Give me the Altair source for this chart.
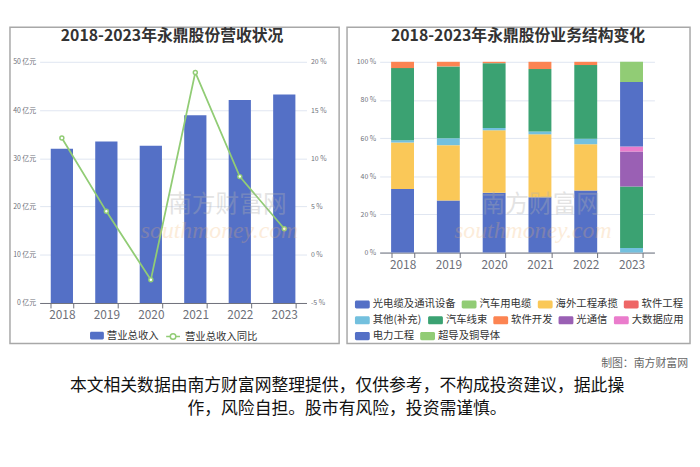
import altair as alt
import pandas as pd

# ---------------- data ----------------
years = ["2018", "2019", "2020", "2021", "2022", "2023"]
revenue = [32.0, 33.5, 32.6, 38.9, 42.1, 43.2]      # 亿元
yoy = [12.1, 4.5, -2.6, 18.9, 8.1, 2.7]             # %

rev_name = "营业总收入"
yoy_name = "营业总收入同比"
left_title = "2018-2023年永鼎股份营收状况"
right_title = "2018-2023年永鼎股份业务结构变化"

segments = ["光电缆及通讯设备", "汽车用电缆", "海外工程承揽", "软件工程",
            "其他(补充)", "汽车线束", "软件开发", "光通信", "大数据应用",
            "电力工程", "超导及铜导体"]
seg_colors = ["#5470c6", "#91cc75", "#fac858", "#ee6666", "#73c0de", "#3ba272",
              "#fc8452", "#9a60b4", "#ea7ccc", "#5470c6", "#91cc75"]
share_gdl = [33.3, 27.3, 31.3, 29.0, 32.5, 0.0]
share_qcydl = [0.0, 0.0, 0.0, 0.0, 0.0, 0.0]
share_hwgc = [24.4, 29.0, 32.8, 33.0, 24.3, 0.0]
share_rjgc = [0.0, 0.0, 0.0, 0.0, 0.0, 0.0]
share_qt = [1.2, 3.6, 1.2, 1.5, 2.9, 2.4]
share_qcxs = [37.8, 37.7, 34.0, 32.7, 38.6, 32.3]
share_rjkf = [3.3, 2.4, 0.7, 3.8, 1.7, 0.0]
share_gtx = [0.0, 0.0, 0.0, 0.0, 0.0, 18.3]
share_dsj = [0.0, 0.0, 0.0, 0.0, 0.0, 2.6]
share_dlgc = [0.0, 0.0, 0.0, 0.0, 0.0, 33.8]
share_cd = [0.0, 0.0, 0.0, 0.0, 0.0, 10.6]
shares = [share_gdl, share_qcydl, share_hwgc, share_rjgc, share_qt, share_qcxs,
          share_rjkf, share_gtx, share_dsj, share_dlgc, share_cd]
legend_rows = [segments[0:4], segments[4:9], segments[9:11]]

credit = "制图：南方财富网"
note1 = "本文相关数据由南方财富网整理提供，仅供参考，不构成投资建议，据此操"
note2 = "作，风险自担。股市有风险，投资需谨慎。"
wm_cn = "南方财富网"
wm_en = "southmoney.com"

# ---------------- style ----------------
FONT = "Noto Sans CJK SC"
AXIS_GRAY = "#6e7079"
GRID = "#e0e6f1"
BOX = "#a8a8a8"
LW, LH = 270, 244
RW, RH = 278, 193

rect_sym = ("M-0.8,-0.55H0.8A0.2,0.2,0,0,1,1,-0.35V0.35A0.2,0.2,0,0,1,0.8,0.55"
            "H-0.8A0.2,0.2,0,0,1,-1,0.35V-0.35A0.2,0.2,0,0,1,-0.8,-0.55Z")
line_sym = ("M-1,0L-0.4,0M0.4,0L1,0M-0.4,0A0.4,0.4,0,1,0,0.4,0"
            "A0.4,0.4,0,1,0,-0.4,0")

def xaxis():
    return alt.Axis(title=None, labelAngle=0, labelFontSize=12, labelColor=AXIS_GRAY,
                    domainColor=AXIS_GRAY, tickColor=AXIS_GRAY, tickBand="extent",
                    tickSize=5, labelPadding=2, grid=False, labelFont=FONT)

def xscale():
    return alt.Scale(paddingInner=0.5, paddingOuter=0.25)

one = pd.DataFrame({"k": [0]})

def box(x1, x2, y1, y2):
    return alt.Chart(one).mark_rect(filled=False, stroke=BOX, strokeWidth=1.5,
                                    clip=False).encode(
        x=alt.value(x1), x2=alt.value(x2), y=alt.value(y1), y2=alt.value(y2))

def title(txt, xc):
    return alt.Chart(pd.DataFrame({"t": [txt]})).mark_text(
        font=FONT, fontSize=16, fontWeight="bold", color="#333333",
        align="center", baseline="middle", clip=False).encode(
        text="t:N", x=alt.value(xc), y=alt.value(-26))

def watermark(xc, yc):
    cn = alt.Chart(pd.DataFrame({"t": [wm_cn]})).mark_text(
        font=FONT, fontSize=24, color="#b0b0b0", opacity=0.35, align="center",
        baseline="middle", clip=False).encode(
        text="t:N", x=alt.value(xc), y=alt.value(yc))
    en = alt.Chart(pd.DataFrame({"t": [wm_en]})).mark_text(
        font="Liberation Serif", fontStyle="italic", fontSize=24, color="#f5b56e",
        opacity=0.25, align="center", baseline="middle", clip=False).encode(
        text="t:N", x=alt.value(xc - 8), y=alt.value(yc + 26))
    return [cn, en]

# ---------------- left panel ----------------
left_df = pd.DataFrame({"year": years, "revenue": revenue, "yoy": yoy,
                        "s1": [rev_name] * len(years), "s2": [yoy_name] * len(years)})

bars = alt.Chart(left_df).mark_bar().encode(
    x=alt.X("year:N", scale=xscale(), axis=xaxis()),
    y=alt.Y("revenue:Q", scale=alt.Scale(domain=[0, 50]),
            axis=alt.Axis(title=None, values=[0, 10, 20, 30, 40, 50],
                          labelExpr="datum.value + ' 亿元'", labelFontSize=7,
                          labelColor=AXIS_GRAY, domain=False, ticks=False,
                          grid=True, gridColor=GRID, labelPadding=4, labelFont=FONT)),
    fill=alt.Fill("s1:N", scale=alt.Scale(domain=[rev_name], range=["#5470c6"]),
                  legend=alt.Legend(orient="none", legendX=51, legendY=270, title=None,
                                    direction="horizontal", symbolType=rect_sym,
                                    symbolSize=196, symbolStrokeWidth=0,
                                    labelFontSize=10.5, labelFont=FONT, labelColor="#333333",
                                    labelOffset=3, padding=0)),
)

line = alt.Chart(left_df).mark_line(strokeWidth=1.8).encode(
    x=alt.X("year:N", scale=xscale()),
    y=alt.Y("yoy:Q", scale=alt.Scale(domain=[-5, 20]),
            axis=alt.Axis(title=None, orient="right", values=[-5, 0, 5, 10, 15, 20],
                          labelExpr="datum.value + ' %'", labelFontSize=7,
                          labelColor=AXIS_GRAY, domain=False, ticks=False, grid=False,
                          labelPadding=4, labelFont=FONT)),
    stroke=alt.Stroke("s2:N", scale=alt.Scale(domain=[yoy_name], range=["#91cc75"]),
                      legend=alt.Legend(orient="none", legendX=127, legendY=270, title=None,
                                        direction="horizontal", symbolType=line_sym,
                                        symbolSize=196, symbolStrokeWidth=1.5,
                                        symbolFillColor="white",
                                        labelFontSize=10.5, labelFont=FONT,
                                        labelColor="#333333", labelOffset=4, padding=0)),
)

pts = alt.Chart(left_df).mark_point(filled=True, fill="white", stroke="#91cc75",
                                    strokeWidth=1.5, size=16, opacity=1).encode(
    x=alt.X("year:N", scale=xscale()),
    y=alt.Y("yoy:Q", scale=alt.Scale(domain=[-5, 20]), axis=None),
)

left = alt.layer(box(-30, 303, -35, 285), bars, line, pts, *watermark(190, 145),
                 title(left_title, 134)).resolve_scale(
    y="independent").properties(width=LW, height=LH)

# ---------------- right panel ----------------
rows = []
for i, s in enumerate(segments):
    for j, yr in enumerate(years):
        rows.append({"year": yr, "segment": s, "pct": shares[i][j], "order": i})
rdf = pd.DataFrame(rows)

base = alt.Chart(rdf).transform_stack(
    stack="pct", groupby=["year"], as_=["y0", "y1"],
    sort=[alt.SortField(field="order", order="ascending")])

def yaxis_r():
    return alt.Axis(title=None, values=[0, 20, 40, 60, 80, 100],
                    labelExpr="datum.value + ' %'", labelFontSize=7,
                    labelColor=AXIS_GRAY, domain=False, ticks=False, grid=True,
                    gridColor=GRID, labelPadding=4, labelFont=FONT)

row_y = [238, 254, 270]
bar_layers = []
for k, row in enumerate(legend_rows):
    cols = [seg_colors[segments.index(s)] for s in row]
    bar_layers.append(
        base.transform_filter(alt.FieldOneOfPredicate(field="segment", oneOf=row))
        .mark_bar().encode(
            x=alt.X("year:N", scale=xscale(), axis=xaxis()),
            y=alt.Y("y0:Q", scale=alt.Scale(domain=[0, 100]), axis=yaxis_r()),
            y2="y1:Q",
            color=alt.Color("segment:N", scale=alt.Scale(domain=row, range=cols),
                            legend=alt.Legend(orient="none", legendX=-25, legendY=row_y[k],
                                              title=None, direction="horizontal",
                                              symbolType=rect_sym, symbolSize=225,
                                              symbolStrokeWidth=0, labelFontSize=10.5,
                                              labelFont=FONT, labelColor="#333333",
                                              labelOffset=3, columnPadding=6,
                                              padding=0, labelLimit=200)),
        )
    )

right = alt.layer(box(-33, 314, -35, 285), *bar_layers, *watermark(163, 145),
                  title(right_title, 140)).resolve_scale(
    color="independent").properties(width=RW, height=RH)

# ---------------- footer ----------------
# footer view origin is aligned with the left plot area (page x ~38)
def ftext(txt, x, y, size, color, align):
    return alt.Chart(pd.DataFrame({"t": [txt]})).mark_text(
        font=FONT, fontSize=size, color=color, align=align, baseline="middle",
        clip=False).encode(text="t:N", x=alt.value(x), y=alt.value(y))

footer = alt.layer(
    ftext(credit, 656, 14, 11, "#666666", "right"),
    ftext(note1, 311, 36, 17, "#111111", "center"),
    ftext(note2, 311, 59, 17, "#111111", "center"),
).properties(width=600, height=72)

top = alt.hconcat(left, right, spacing=4)
chart = alt.vconcat(top, footer, spacing=4).properties(
    padding={"top": 15, "left": 0, "right": 0, "bottom": 0}
).configure(font=FONT, background="white").configure_view(stroke="transparent")

chart.save("out.html", embed_options={"renderer": "svg", "actions": False})
